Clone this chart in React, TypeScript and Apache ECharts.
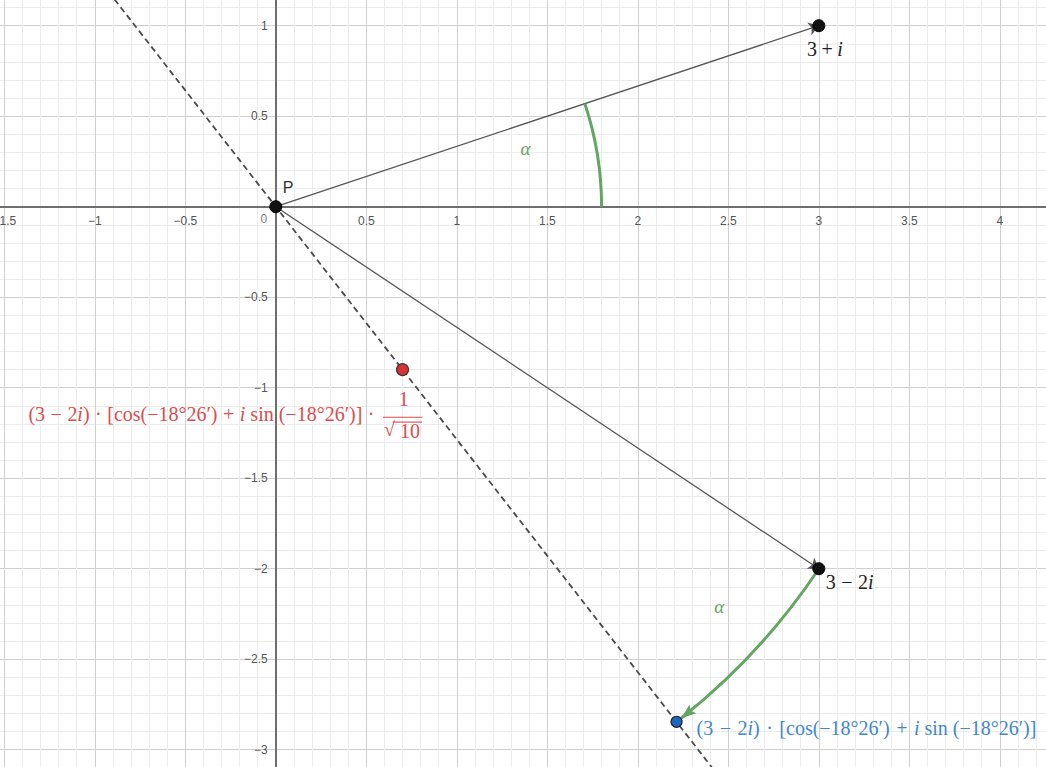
import React, { useEffect, useRef } from "react";
import * as echarts from "echarts";

// ---- data ----
const X_MIN = -2;
const X_MAX = 4.5;
const Y_MIN = -3.5;
const Y_MAX = 1.5;
const TICK_STEP = 0.5;
const MINOR_SPLITS = 5;
const zeroTickLabel = "0";
const origin = [0, 0];

const pointNames = ["P", "3_+_*i*", "3_−_2*i*"];
const pointValues = [
  [0, 0],
  [3, 1],
  [3, -2],
];
const redPoint = [0.7, -0.9];
const bluePoint = [2.214, -2.846];
const vectorEnds = [
  [3, 1],
  [3, -2],
];
const dashedLine = [
  [-1.4, 1.8],
  [2.8, -3.6],
];
const arcRadii = [1.8, 3.606];
const arcStartDeg = [0, -33.69];
const arcEndDeg = [18.43, -52.13];
const arcHasArrow = [false, true];
const arcLabelAt = [
  [1.38, 0.32],
  [2.45, -2.21],
];
const arcLabel = "α";
const rotationText = "(3_−_2*i*)_·_[cos(−18°26′)_+_*i* sin (−18°26′)]";
const fractionNum = "1";
const fractionDen = "10";

// ---- layout (pixels) ----
const W = 1046;
const H = 767;
const SCALE = 181;
const ORIGIN_PX = [275.8, 206.7];
const GRID_LEFT = ORIGIN_PX[0] + X_MIN * SCALE;
const GRID_RIGHT = W - (ORIGIN_PX[0] + X_MAX * SCALE);
const GRID_TOP = ORIGIN_PX[1] - Y_MAX * SCALE;
const GRID_BOTTOM = H - (ORIGIN_PX[1] - Y_MIN * SCALE);
const VIS_X = [-ORIGIN_PX[0] / SCALE - 0.05, (W - ORIGIN_PX[0]) / SCALE - 0.05];
const VIS_Y = [-(H - ORIGIN_PX[1]) / SCALE + 0.03, ORIGIN_PX[1] / SCALE - 0.03];

// ---- styles ----
const MATH = '"Liberation Serif", "Times New Roman", serif';
const SANS = '"Liberation Sans", Arial, sans-serif';
const GREEN = "#63a563";
const RED_TXT = "#dd4b4b";
const BLUE_TXT = "#3f87d2";
const MATH_SIZE = 20;
const RED_PAD = 5.5;

const toRich = (s: string) =>
  s
    .split(/(\*[^*]+\*|_[^_]+_)/)
    .filter((seg) => seg)
    .map((seg) => {
      if (seg[0] === "*") return `{it|${seg.slice(1, -1)}}`;
      if (seg[0] === "_") return `{op|${seg.slice(1, -1)}}`;
      return `{rm|${seg}}`;
    })
    .join("");

const richStyles = (colorKey: string, color: string, pad: number) => ({
  rm: { fontFamily: MATH, fontSize: MATH_SIZE, [colorKey]: color },
  it: { fontFamily: MATH, fontSize: MATH_SIZE, fontStyle: "italic", [colorKey]: color },
  op: { fontFamily: MATH, fontSize: MATH_SIZE, [colorKey]: color, padding: [0, pad, 0, pad] },
});
const labelRich = (color: string, pad: number) => richStyles("color", color, pad);
const zrRich = (fill: string, pad: number) => richStyles("fill", fill, pad);

const fmtX = (v: number) =>
  v === 0 || v < VIS_X[0] || v > VIS_X[1] ? "" : String(v).replace("-", "−");
const fmtY = (v: number) =>
  v === 0 || v < VIS_Y[0] || v > VIS_Y[1] ? "" : String(v).replace("-", "−");

const pointLabelStyle: any[] = [
  { align: "left", offset: [7, -19], fontFamily: SANS, fontSize: 16, color: "#333" },
  { align: "center", offset: [6, 23], rich: labelRich("#222", 4.5) },
  { align: "left", offset: [7, 13], rich: labelRich("#222", 5.5) },
];

export default function App() {
  const ref = useRef<HTMLDivElement>(null);
  useEffect(() => {
    if (!ref.current) return;
    const chart = echarts.init(ref.current, null, { renderer: "svg" });

    const axisCommon = (
      min: number,
      max: number,
      position: string,
      offset: number,
      formatter: (v: number) => string
    ) => ({
      type: "value",
      min,
      max,
      position,
      offset,
      interval: TICK_STEP,
      axisLine: { show: true, onZero: false, lineStyle: { color: "#6e6e6e", width: 2 } },
      axisTick: { show: false },
      minorTick: { show: false, splitNumber: MINOR_SPLITS },
      splitLine: { show: true, lineStyle: { color: "#d0d0d0", width: 1 } },
      minorSplitLine: { show: true, lineStyle: { color: "#ececec", width: 1 } },
      axisLabel: {
        formatter,
        color: "#555",
        fontSize: 12,
        fontFamily: SANS,
        margin: 8,
        hideOverlap: false,
      },
    });

    const option: any = {
      animation: false,
      backgroundColor: "#fff",
      grid: {
        left: GRID_LEFT,
        right: GRID_RIGHT,
        top: GRID_TOP,
        bottom: GRID_BOTTOM,
        containLabel: false,
        outerBoundsMode: "none",
      },
      xAxis: axisCommon(X_MIN, X_MAX, "bottom", -(H - GRID_BOTTOM - ORIGIN_PX[1]), fmtX),
      yAxis: axisCommon(Y_MIN, Y_MAX, "left", -(ORIGIN_PX[0] - GRID_LEFT), fmtY),
      series: [
        {
          type: "line",
          data: dashedLine,
          symbol: "none",
          z: 2,
          lineStyle: { color: "#4a4a4a", width: 1.8, type: [6, 4] },
        },
        {
          type: "lines",
          coordinateSystem: "cartesian2d",
          z: 3,
          symbol: ["none", "arrow"],
          symbolSize: 10,
          lineStyle: { color: "#555", width: 1.3, opacity: 1, curveness: 0 },
          data: vectorEnds.map((e) => ({ coords: [origin, e] })),
        },
        {
          type: "custom",
          z: 4,
          data: arcRadii.map(() => origin),
          encode: { x: 0, y: 1 },
          renderItem: (params: any, api: any) => {
            const k = params.dataIndex;
            const c = api.coord([api.value(0), api.value(1)]);
            const r = api.size([arcRadii[k], 0])[0];
            const a0 = (-arcStartDeg[k] * Math.PI) / 180;
            let a1 = (-arcEndDeg[k] * Math.PI) / 180;
            const sgn = a1 > a0 ? 1 : -1;
            const children: any[] = [];
            if (arcHasArrow[k]) {
              a1 = a1 - sgn * (6 / r);
              const tip = [c[0] + r * Math.cos(a1), c[1] + r * Math.sin(a1)];
              const d = [-Math.sin(a1) * sgn, Math.cos(a1) * sgn];
              const n = [-d[1], d[0]];
              const L = 15;
              const HW = 5.5;
              const back = [tip[0] - d[0] * L, tip[1] - d[1] * L];
              children.push({
                type: "polygon",
                z2: 2,
                shape: {
                  points: [
                    tip,
                    [back[0] + n[0] * HW, back[1] + n[1] * HW],
                    [back[0] + d[0] * 3, back[1] + d[1] * 3],
                    [back[0] - n[0] * HW, back[1] - n[1] * HW],
                  ],
                },
                style: { fill: GREEN },
              });
            }
            children.push({
              type: "arc",
              z2: 1,
              shape: {
                cx: c[0],
                cy: c[1],
                r,
                startAngle: Math.min(a0, a1),
                endAngle: Math.max(a0, a1),
                clockwise: true,
              },
              style: { stroke: GREEN, lineWidth: 3, fill: "none" },
            });
            const lp = api.coord(arcLabelAt[k]);
            children.push({
              type: "text",
              x: lp[0],
              y: lp[1],
              style: {
                text: arcLabel,
                fontFamily: MATH,
                fontSize: 19,
                fontStyle: "italic",
                fill: GREEN,
                align: "center",
                verticalAlign: "middle",
              },
            });
            return { type: "group", children };
          },
        },
        {
          type: "custom",
          z: 5,
          data: [redPoint],
          encode: { x: 0, y: 1 },
          renderItem: (_params: any, api: any) => {
            const p = api.coord([api.value(0), api.value(1)]);
            const txt = (x: number, y: number, text: string, align: string, rich?: any) => ({
              type: "text",
              x: p[0] + x,
              y: p[1] + y,
              style: {
                text,
                rich,
                fontFamily: MATH,
                fontSize: MATH_SIZE,
                fill: RED_TXT,
                align,
                verticalAlign: "middle",
              },
            });
            const ln = (x1: number, x2: number, y: number) => ({
              type: "line",
              shape: { x1: p[0] + x1, y1: p[1] + y, x2: p[0] + x2, y2: p[1] + y },
              style: { stroke: RED_TXT, lineWidth: 1.1 },
            });
            return {
              type: "group",
              children: [
                txt(-28 + RED_PAD, 44.5, toRich(rotationText + "_·_"), "right", zrRich(RED_TXT, RED_PAD)),
                txt(1.2, 29.5, fractionNum, "center"),
                ln(-19.5, 20, 47.7),
                txt(-13, 59.5, "√", "center"),
                ln(-10, 19.5, 52.5),
                txt(7.5, 61, fractionDen, "center"),
              ],
            };
          },
        },
        {
          type: "scatter",
          z: 6,
          symbol: "circle",
          symbolSize: 12,
          itemStyle: { color: "#111", borderColor: "#000", borderWidth: 1, opacity: 1 },
          data: pointValues.map((v, k) => ({
            value: v,
            label: {
              show: true,
              position: "inside",
              verticalAlign: "middle",
              formatter: k === 0 ? pointNames[k] : toRich(pointNames[k]),
              ...pointLabelStyle[k],
            },
          })),
        },
        {
          type: "scatter",
          z: 6,
          symbolSize: 12,
          itemStyle: { color: "#d93030", borderColor: "#3a3a3a", borderWidth: 1.2, opacity: 1 },
          data: [redPoint],
        },
        {
          type: "scatter",
          z: 6,
          symbolSize: 11,
          itemStyle: { color: "#1a66c4", borderColor: "#222", borderWidth: 1.2, opacity: 1 },
          data: [
            {
              value: bluePoint,
              label: {
                show: true,
                position: "inside",
                align: "left",
                verticalAlign: "middle",
                offset: [20, 6],
                formatter: toRich(rotationText),
                rich: labelRich(BLUE_TXT, 6.5),
              },
            },
          ],
        },
        {
          type: "scatter",
          z: 1,
          symbol: "circle",
          symbolSize: 1,
          silent: true,
          itemStyle: { color: "rgba(0,0,0,0)" },
          data: [
            {
              value: origin,
              label: {
                show: true,
                position: "inside",
                offset: [-12, 12.5],
                formatter: zeroTickLabel,
                color: "#555",
                fontSize: 12,
                fontFamily: SANS,
              },
            },
          ],
        },
      ],
    };
    chart.setOption(option);
    return () => chart.dispose();
  }, []);
  return <div ref={ref} style={{ position: "absolute", left: 0, top: 0, width: W, height: H }} />;
}
